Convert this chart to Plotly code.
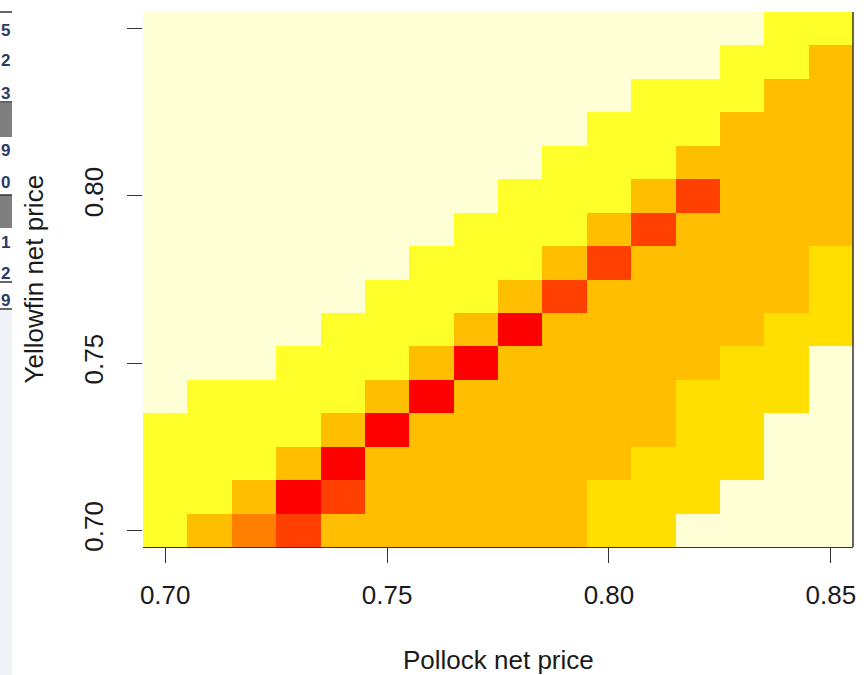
import plotly.graph_objects as go

# Grid centres (net prices)
pollock_price = [0.70, 0.71, 0.72, 0.73, 0.74, 0.75, 0.76, 0.77,
                 0.78, 0.79, 0.80, 0.81, 0.82, 0.83, 0.84, 0.85]
yellowfin_price = [0.70, 0.71, 0.72, 0.73, 0.74, 0.75, 0.76, 0.77,
                   0.78, 0.79, 0.80, 0.81, 0.82, 0.83, 0.84, 0.85]

# Colour level of each cell (0 = red ... 6 = pale), one row per yellowfin price
level_rows = [
    [5, 3, 2, 1, 3, 3, 3, 3, 3, 3, 4, 4, 6, 6, 6, 6],
    [5, 5, 3, 0, 1, 3, 3, 3, 3, 3, 4, 4, 4, 6, 6, 6],
    [5, 5, 5, 3, 0, 3, 3, 3, 3, 3, 3, 4, 4, 4, 6, 6],
    [5, 5, 5, 5, 3, 0, 3, 3, 3, 3, 3, 3, 4, 4, 6, 6],
    [6, 5, 5, 5, 5, 3, 0, 3, 3, 3, 3, 3, 4, 4, 4, 6],
    [6, 6, 6, 5, 5, 5, 3, 0, 3, 3, 3, 3, 3, 4, 4, 6],
    [6, 6, 6, 6, 5, 5, 5, 3, 0, 3, 3, 3, 3, 3, 4, 4],
    [6, 6, 6, 6, 6, 5, 5, 5, 3, 1, 3, 3, 3, 3, 3, 4],
    [6, 6, 6, 6, 6, 6, 5, 5, 5, 3, 1, 3, 3, 3, 3, 4],
    [6, 6, 6, 6, 6, 6, 6, 5, 5, 5, 3, 1, 3, 3, 3, 3],
    [6, 6, 6, 6, 6, 6, 6, 6, 5, 5, 5, 3, 1, 3, 3, 3],
    [6, 6, 6, 6, 6, 6, 6, 6, 6, 5, 5, 5, 3, 3, 3, 3],
    [6, 6, 6, 6, 6, 6, 6, 6, 6, 6, 5, 5, 5, 3, 3, 3],
    [6, 6, 6, 6, 6, 6, 6, 6, 6, 6, 6, 5, 5, 5, 3, 3],
    [6, 6, 6, 6, 6, 6, 6, 6, 6, 6, 6, 6, 6, 5, 5, 3],
    [6, 6, 6, 6, 6, 6, 6, 6, 6, 6, 6, 6, 6, 6, 5, 5],
]

level_colors = ["#FF0000", "#FF4000", "#FF8000", "#FFBF00",
                "#FFDF00", "#FFFF2A", "#FFFFD5"]

tick_vals = [0.70, 0.75, 0.80, 0.85]
tick_text = ["0.70", "0.75", "0.80", "0.85"]

# discrete colorscale
n = len(level_colors)
colorscale = []
for k, c in enumerate(level_colors):
    colorscale.append([k / n, c])
    colorscale.append([(k + 1) / n, c])

W, H = 867, 675
L, R, T, B = 143, 14, 12, 128
PW, PH = W - L - R, H - T - B


def px(xp):
    return (xp - L) / PW


def py(yp):
    return (H - B - yp) / PH


FONT = "Liberation Sans, Arial, sans-serif"
TXT = "#1a1a1a"

fig = go.Figure(go.Heatmap(
    x=pollock_price, y=yellowfin_price, z=level_rows,
    zmin=-0.5, zmax=n - 0.5, colorscale=colorscale, showscale=False,
    hoverinfo="skip",
))

fig.update_layout(
    width=W, height=H,
    margin=dict(l=L, r=R, t=T, b=B, pad=0),
    paper_bgcolor="white", plot_bgcolor="white",
    font=dict(family=FONT, size=26, color=TXT),
    xaxis=dict(range=[0.695, 0.855], tickvals=tick_vals, ticktext=tick_text,
               ticks="outside", ticklen=15, tickwidth=1, tickcolor="#333",
               showgrid=False, zeroline=False, showline=True, linecolor="#333",
               linewidth=1, mirror=False, ticklabelstandoff=10,
               tickfont=dict(size=26, color=TXT)),
    yaxis=dict(range=[0.695, 0.855], tickvals=tick_vals, ticktext=tick_text,
               ticks="outside", ticklen=15, tickwidth=1, tickcolor="#333",
               showgrid=False, zeroline=False, showline=False,
               tickangle=-90, ticklabelstandoff=14,
               tickfont=dict(size=26, color=TXT)),
)

# right frame line
fig.add_shape(type="line", xref="paper", yref="paper", x0=1, x1=1, y0=0, y1=1,
              line=dict(color="#333", width=1.5))

# axis titles
fig.add_annotation(text="Pollock net price", xref="paper", yref="paper",
                   x=0.5, y=py(660), xanchor="center", yanchor="middle",
                   showarrow=False, font=dict(size=26, color=TXT))
fig.add_annotation(text="Yellowfin net price", xref="paper", yref="paper",
                   x=px(33), y=0.5, xanchor="center", yanchor="middle",
                   textangle=-90, showarrow=False, font=dict(size=26, color=TXT))

# cropped neighbouring window strip at the far left
strip_x1 = px(12)
fig.add_shape(type="rect", xref="paper", yref="paper", x0=px(0), x1=strip_x1,
              y0=py(675), y1=py(310), fillcolor="#F0F2F8", line_width=0, layer="above")
for y0, y1 in [(103, 137), (195, 228)]:
    fig.add_shape(type="rect", xref="paper", yref="paper", x0=px(0), x1=strip_x1,
                  y0=py(y1), y1=py(y0), fillcolor="#7F7F7F", line_width=0, layer="above")
for yl in [12, 102, 195, 282, 309]:
    fig.add_shape(type="line", xref="paper", yref="paper", x0=px(0), x1=strip_x1,
                  y0=py(yl), y1=py(yl), line=dict(color="#333", width=1.5))
strip_digits = ["5", "2", "3", "9", "0", "1", "2", "9"]
strip_digit_y = [31, 61, 93, 150, 183, 243, 273, 300]
for d, yd in zip(strip_digits, strip_digit_y):
    fig.add_annotation(text="<b>" + d + "</b>", xref="paper", yref="paper",
                       x=strip_x1, y=py(yd), xanchor="right", yanchor="middle",
                       showarrow=False, font=dict(size=17, color="#2B3A67"))

fig.write_html(
    "out.html",
    config={"displayModeBar": False},
    post_script="document.body.style.margin='0';document.body.style.overflow='hidden';",
)
